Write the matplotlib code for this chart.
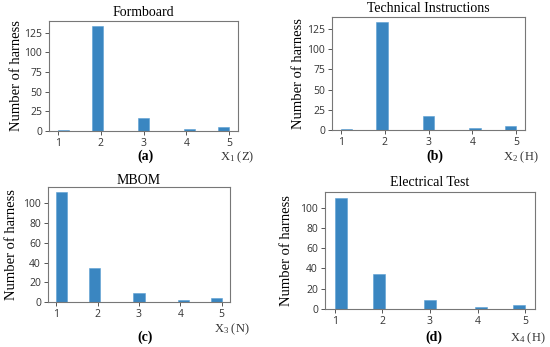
import matplotlib.pyplot as plt
from matplotlib.ticker import MultipleLocator

# valores de cada variable (categorias 1..5) y numero de arneses
categories = [1, 2, 3, 4, 5]
formboard = [1, 133, 17, 2, 5]
technical = [1, 133, 17, 2, 5]
mbom = [111, 34, 9, 2, 4]
electrical = [110, 35, 9, 2, 4]

titles = ["Formboard", "Technical Instructions", "MBOM", "Electrical Test"]
panel_tags = ["(a)", "(b)", "(c)", "(d)"]
xlabels = ["X$_1$ (Z)", "X$_2$ (H)", "X$_3$ (N)", "X$_4$ (H)"]
series = [formboard, technical, mbom, electrical]
ystep = [25, 25, 20, 20]

plt.rcParams["mathtext.fontset"] = "custom"
plt.rcParams["mathtext.rm"] = "Liberation Serif"
plt.rcParams["mathtext.it"] = "Liberation Serif:italic"

W, H = 550, 347
fig = plt.figure(figsize=(W / 100, H / 100), dpi=100)

# cajas de ejes en pixeles: left, top, right, bottom
boxes = [(49, 21, 238, 131), (332, 17, 525, 130), (48, 187, 230, 302), (325, 192, 535, 309)]
title_y = [12, 8, 180, 183]
ylab_x = [17, 298, 12, 287]
tag_pos = [(146, 156), (435, 156), (145, 337), (434, 337)]
xlab_pos = [(237, 157), (521, 157), (232, 329), (528, 338)]

serif = "Liberation Serif"
for i, vals in enumerate(series):
    l, t, r, b = boxes[i]
    ax = fig.add_axes([l / W, 1 - b / H, (r - l) / W, (b - t) / H])
    ax.hist(categories, bins=15, range=(1, 5), weights=vals, color="#3a86c1", edgecolor="#5a9fd4", linewidth=0.4)
    ax.set_xticks(categories)
    ax.yaxis.set_major_locator(MultipleLocator(ystep[i]))
    ax.tick_params(labelsize=7.5, length=3, width=0.7, color="#555555", pad=2, labelcolor="#333333")
    for lab in ax.get_xticklabels() + ax.get_yticklabels():
        lab.set_family("Open Sans")
    for s in ax.spines.values():
        s.set_color("#777777")
        s.set_linewidth(0.8)
    cx = (l + r) / 2
    fig.text(cx / W, 1 - title_y[i] / H, titles[i], ha="center", va="center", family=serif, fontsize=10)
    fig.text(ylab_x[i] / W, 1 - (t + b) / 2 / H, "Number of harness", rotation=90, ha="center", va="center",
             family=serif, fontsize=10.5)
    fig.text(tag_pos[i][0] / W, 1 - tag_pos[i][1] / H, panel_tags[i], ha="center", va="center",
             family=serif, fontsize=10, fontweight="bold")
    fig.text(xlab_pos[i][0] / W, 1 - xlab_pos[i][1] / H, xlabels[i], ha="center", va="center",
             family=serif, fontsize=9, color="#333333")

fig.savefig("out.png", dpi=100)
